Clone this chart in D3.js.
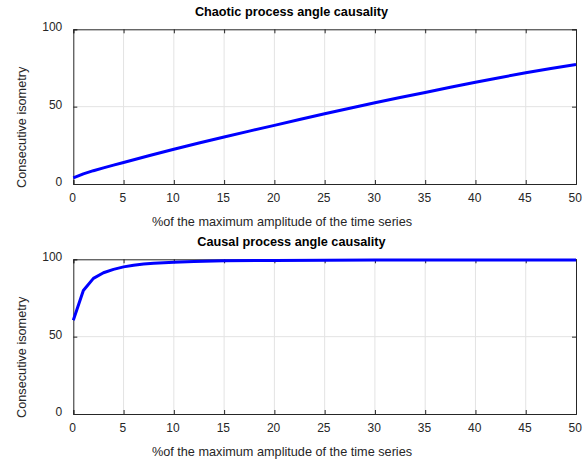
<!DOCTYPE html>
<html><head><meta charset="utf-8">
<script src="https://cdn.jsdelivr.net/npm/d3@7"></script>
<style>body{margin:0;background:#fff}svg{display:block}text{font-family:"Liberation Sans",Arial,sans-serif}</style>
</head><body><svg id="c" width="584" height="463"></svg>
<script>
const xTicks = [0,5,10,15,20,25,30,35,40,45,50];
const yTicks = [0,50,100];
const chaoticX = [0,1,2,3,4,5,7.5,10,12.5,15,17.5,20,22.5,25,27.5,30,32.5,35,37.5,40,42.5,45,47.5,50];
const chaoticY = [3.9,6.5,8.6,10.4,12.2,13.9,18.3,22.5,26.5,30.4,34.2,37.9,41.7,45.4,49.0,52.5,55.9,59.2,62.5,65.8,68.9,71.9,74.7,77.3];
const causalX = [0,1,2,3,4,5,6,7,8,9,10,12,15,20,25,30,35,40,45,50];
const causalY = [60.6,79.8,87.7,91.3,93.5,95.1,96.2,96.9,97.4,97.8,98.1,98.6,99.0,99.3,99.4,99.5,99.5,99.6,99.6,99.6];
const titles = ["Chaotic process angle causality","Causal process angle causality"];
const xLabel = "%of the maximum amplitude of the time series";
const yLabel = "Consecutive isometry";

const svg = d3.select("#c");
const panels = [
  {top:29.3, bottom:184, xs:chaoticX, ys:chaoticY, title:titles[0]},
  {top:259.3, bottom:414, xs:causalX, ys:causalY, title:titles[1]}
];
const left = 73.3, right = 576;
const x = d3.scaleLinear().domain([0,50]).range([left,right]);
const axisCol = "#262626";

panels.forEach(p => {
  const y = d3.scaleLinear().domain([0,100]).range([p.bottom,p.top]);
  const g = svg.append("g");
  g.append("g").selectAll("line").data(xTicks.slice(1,-1)).join("line")
    .attr("x1",d=>x(d)).attr("x2",d=>x(d)).attr("y1",p.top).attr("y2",p.bottom)
    .attr("stroke","#e3e3e3").attr("stroke-width",1);
  g.append("g").selectAll("line").data(yTicks.slice(1,-1)).join("line")
    .attr("y1",d=>y(d)).attr("y2",d=>y(d)).attr("x1",left).attr("x2",right)
    .attr("stroke","#e3e3e3").attr("stroke-width",1);
  const ax = d3.axisBottom(x).tickValues(xTicks).tickSize(-4).tickPadding(9);
  const gx = g.append("g").attr("transform",`translate(0,${p.bottom})`).call(ax);
  const axT = d3.axisTop(x).tickValues(xTicks).tickSize(-4).tickFormat("");
  const gxt = g.append("g").attr("transform",`translate(0,${p.top})`).call(axT);
  const ay = d3.axisLeft(y).tickValues(yTicks).tickSize(-4).tickPadding(11);
  const gy = g.append("g").attr("transform",`translate(${left},0)`).call(ay);
  const ayR = d3.axisRight(y).tickValues(yTicks).tickSize(-4).tickFormat("");
  const gyr = g.append("g").attr("transform",`translate(${right},0)`).call(ayR);
  [gx,gxt,gy,gyr].forEach(a => {
    a.select(".domain").attr("stroke",axisCol).attr("stroke-width",1);
    a.selectAll(".tick line").attr("stroke",axisCol);
    a.selectAll("text").attr("fill",axisCol).attr("font-size",12)
      .attr("font-family","'Liberation Sans',Arial,sans-serif");
  });
  gx.selectAll("text").attr("dx",-1.3);
  gy.selectAll("text").attr("dy","0.12em");
  const data = p.xs.map((v,i)=>[v,p.ys[i]]);
  g.append("path").datum(data)
    .attr("fill","none").attr("stroke","#0000ff").attr("stroke-width",3)
    .attr("stroke-linejoin","round")
    .attr("d", d3.line().x(d=>x(d[0])).y(d=>y(d[1])));
  g.append("text").attr("x",291.5).attr("y",p.top-13).attr("text-anchor","middle")
    .attr("font-size",12.7).attr("font-weight","bold").attr("fill","#000").text(p.title);
  g.append("text").attr("x",282).attr("y",p.bottom+42).attr("text-anchor","middle")
    .attr("font-size",12.7).attr("fill",axisCol).text(xLabel);
  g.append("text").attr("transform",`translate(25.5,${p.top+98}) rotate(-90)`)
    .attr("text-anchor","middle").attr("font-size",12.7).attr("fill",axisCol).text(yLabel);
});
</script></body></html>
